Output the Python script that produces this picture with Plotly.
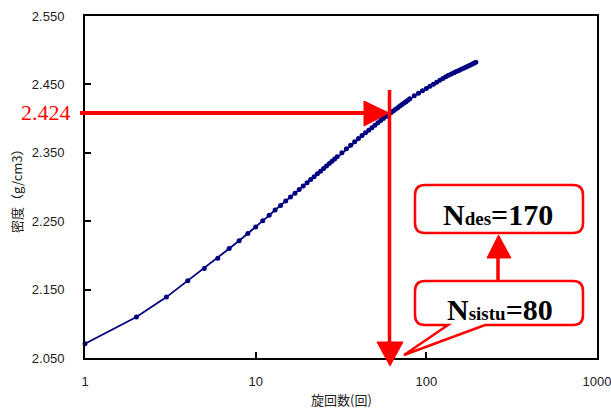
import plotly.graph_objects as go

# ---- data ----
gyrations = [1, 2, 3, 4, 5, 6, 7, 8, 9, 10, 11, 12, 13, 14, 15, 16, 17, 18, 19, 20,
             21, 22, 23, 24, 25, 26, 27, 28, 29, 30, 32, 34, 36, 38, 40, 42, 44, 46, 48, 50,
             52, 54, 56, 58, 60, 62, 64, 66, 68, 70, 72, 74, 76, 78, 80, 85, 90, 95, 100,
             105, 110, 115, 120, 125, 130, 135, 140, 145, 150, 155, 160, 165, 170, 175,
             180, 185, 190, 195]
density = [2.071, 2.110, 2.139, 2.163, 2.181, 2.196, 2.210, 2.2215, 2.232, 2.2415,
           2.2507, 2.2586, 2.2664, 2.2729, 2.2794, 2.2854, 2.2910, 2.2964, 2.3014, 2.3062,
           2.3108, 2.3151, 2.3193, 2.3232, 2.3270, 2.3307, 2.3343, 2.3376, 2.3409, 2.3441,
           2.3501, 2.3558, 2.3611, 2.3662, 2.3709, 2.3752, 2.3793, 2.3831, 2.3868, 2.3904,
           2.3938, 2.3971, 2.4002, 2.4032, 2.4061, 2.4087, 2.4112, 2.4137, 2.4160, 2.4183,
           2.4206, 2.4227, 2.4248, 2.4269, 2.4289, 2.4334, 2.4372, 2.4407, 2.4441,
           2.4473, 2.4503, 2.4532, 2.4560, 2.4587, 2.4613, 2.4632, 2.4651, 2.4669, 2.4687,
           2.4704, 2.4720, 2.4736, 2.4752, 2.4767, 2.4781, 2.4796, 2.4809, 2.4823]
y_ticks = [2.050, 2.150, 2.250, 2.350, 2.450, 2.550]
x_ticks = [1, 10, 100, 1000]
x_title = "旋回数(回)"
y_title = "密度（g/cm3）"
density_label = "2.424"
n_des_label = "<b>N<span style='font-size:19px'>des</span>=170</b>"
n_sistu_label = "<b>N<span style='font-size:19px'>sistu</span>=80</b>"

W, H = 611, 410
L, R, T, B = 85, 597, 16, 358


def px(x):
    return (x - L) / (R - L)


def py(y):
    return (B - y) / (B - T)


def P(x, y):
    return f"{px(x):.5f},{py(y):.5f}"


fig = go.Figure()
fig.add_trace(go.Scatter(
    x=gyrations, y=density, mode="lines+markers",
    line=dict(color="#000080", width=1.8),
    marker=dict(color="#000080", size=5),
    showlegend=False, cliponaxis=False,
))

RED = "#ff0000"
shapes = []


def line(x0, y0, x1, y1, w=3.5):
    shapes.append(dict(type="line", xref="paper", yref="paper",
                       x0=px(x0), y0=py(y0), x1=px(x1), y1=py(y1),
                       line=dict(color=RED, width=w)))


def tri(pts):
    d = "M " + " L ".join(P(x, y) for x, y in pts) + " Z"
    shapes.append(dict(type="path", xref="paper", yref="paper", path=d,
                       fillcolor=RED, line=dict(color=RED, width=1)))


def rrect(x0, y0, x1, y1, r, tail=None):
    d = f"M {P(x0 + r, y0)} L {P(x1 - r, y0)} Q {P(x1, y0)} {P(x1, y0 + r)} "
    d += f"L {P(x1, y1 - r)} Q {P(x1, y1)} {P(x1 - r, y1)} "
    if tail:
        (tr, tip, tl) = tail
        d += f"L {P(*tr)} L {P(*tip)} L {P(*tl)} "
    d += f"L {P(x0 + r, y1)} Q {P(x0, y1)} {P(x0, y1 - r)} "
    d += f"L {P(x0, y0 + r)} Q {P(x0, y0)} {P(x0 + r, y0)} Z"
    shapes.append(dict(type="path", xref="paper", yref="paper", path=d,
                       fillcolor="rgba(255,255,255,0)", line=dict(color=RED, width=2.5)))


# horizontal arrow
line(80, 113, 366, 113, 4)
tri([(364, 101), (364, 126), (389, 113)])
# vertical arrow
line(389.5, 90, 389.5, 344, 3.5)
tri([(377, 342), (403, 342), (390, 366)])
# boxes
rrect(415, 185, 583, 233, 10)
rrect(415, 281, 583, 325, 10, tail=((485, 325), (404, 355), (448, 325)))
# up arrow between boxes
line(498, 281, 498, 256, 3.5)
tri([(487, 258), (511, 258), (498.5, 235)])

fig.update_layout(shapes=shapes)

ann = [
    dict(text=density_label, x=px(73), y=py(113), xanchor="right", yanchor="middle",
         font=dict(family="Liberation Serif", size=22, color=RED)),
    dict(text=n_des_label, x=px(498), y=py(214), xanchor="center", yanchor="middle",
         font=dict(family="Liberation Serif", size=30, color="black")),
    dict(text=n_sistu_label, x=px(500), y=py(309), xanchor="center", yanchor="middle",
         font=dict(family="Liberation Serif", size=30, color="black")),
    dict(text=x_title, x=px(341), y=py(399), xanchor="center", yanchor="middle",
         font=dict(family="Noto Sans CJK JP", size=13, color="#222")),
    dict(text=y_title, x=px(16), y=py(188), xanchor="center", yanchor="middle",
         textangle=-90,
         font=dict(family="Noto Sans CJK JP", size=13, color="#222")),
]
for a in ann:
    a.update(xref="paper", yref="paper", showarrow=False)
fig.update_layout(annotations=ann)

fig.update_xaxes(
    type="log", range=[0, 3], tickvals=x_ticks, ticktext=[str(v) for v in x_ticks],
    showline=True, linecolor="black", linewidth=2, mirror=True,
    ticks="inside", ticklen=6, tickwidth=1.5, tickcolor="black",
    showgrid=False, zeroline=False, automargin=False,
    tickfont=dict(family="Liberation Sans", size=13, color="#222"),
    ticklabelstandoff=10, ticklabeloverflow="allow",
)
fig.update_yaxes(
    range=[2.05, 2.55], tickvals=y_ticks, ticktext=[f"{v:.3f}" for v in y_ticks],
    showline=True, linecolor="black", linewidth=2, mirror=True,
    ticks="inside", ticklen=6, tickwidth=1.5, tickcolor="black",
    showgrid=False, zeroline=False, automargin=False,
    tickfont=dict(family="Liberation Sans", size=13, color="#222"),
    ticklabelstandoff=16, ticklabeloverflow="allow",
)
fig.update_layout(
    width=W, height=H,
    margin=dict(l=L, r=W - R, t=T, b=H - B, pad=0),
    paper_bgcolor="white", plot_bgcolor="white",
)

fig.write_html("out.html", config={"displayModeBar": False},
               post_script="document.body.style.margin='0px';document.body.style.overflow='hidden';")
